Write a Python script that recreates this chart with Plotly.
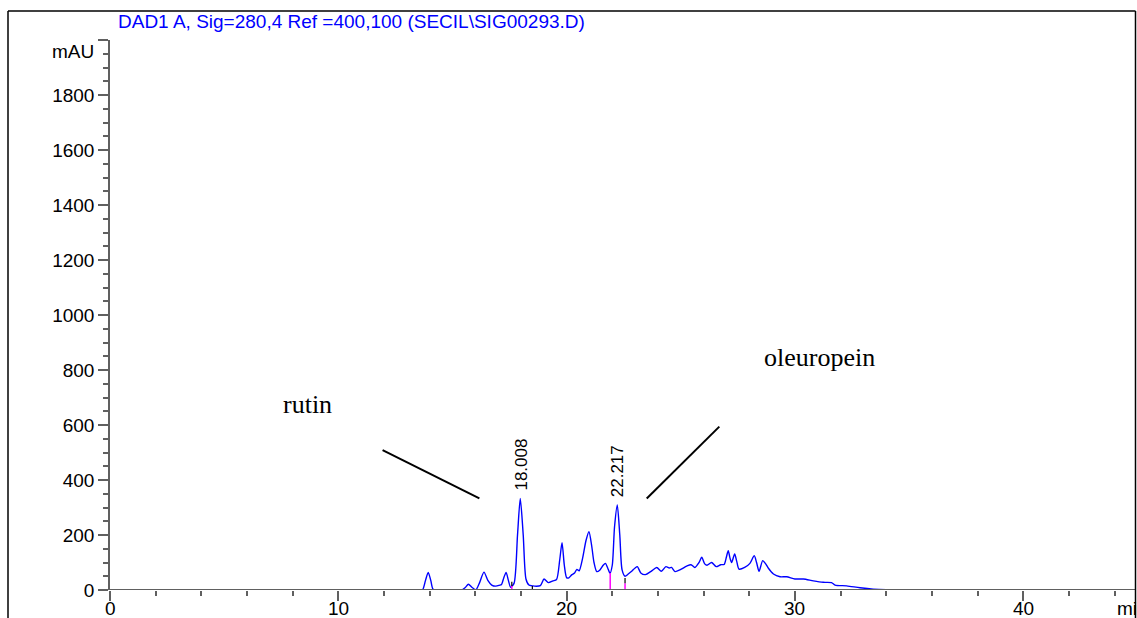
import plotly.graph_objects as go

# ---- data ----
time_min = [2.4, 2.6, 2.8, 13.6, 13.7, 13.82, 13.94, 14.05, 14.15, 14.3, 14.9, 15.4, 15.55, 15.7, 15.85,
            16.03, 16.18, 16.38, 16.55, 16.72, 16.9, 17.05, 17.15, 17.25, 17.35, 17.45, 17.55, 17.7,
            17.85, 17.97, 18.1, 18.22, 18.35, 18.6, 18.85, 19.01, 19.2, 19.4, 19.56, 19.7, 19.8, 19.9,
            20.0, 20.1, 20.22, 20.35, 20.45, 20.55, 20.7, 20.85, 20.98, 21.1, 21.2, 21.32, 21.45, 21.6,
            21.7, 21.8, 21.9, 22.0, 22.1, 22.22, 22.33, 22.43, 22.56, 22.7, 22.85, 23.0, 23.1, 23.25,
            23.45, 23.7, 23.95, 24.15, 24.35, 24.5, 24.6, 24.75, 25.0, 25.26, 25.45, 25.62, 25.8, 25.92,
            26.05, 26.15, 26.35, 26.55, 26.75, 26.9, 27.0, 27.08, 27.16, 27.23, 27.36, 27.45, 27.55,
            27.8, 28.03, 28.22, 28.32, 28.43, 28.59, 28.72, 28.84, 29.06, 29.35, 29.64, 30.0, 30.37,
            30.81, 31.24, 31.6, 31.76, 32.27, 32.85, 33.43, 34.0, 35.0, 36.0]
absorbance_mau = [0, 1, 0, 0, 2, 35, 64, 35, 3, 0, 1, 0, 8, 21, 10,
                  1, 25, 65, 35, 18, 14, 17, 20, 45, 64, 35, 10, 25,
                  200, 333, 200, 40, 18, 14, 16, 40, 27, 33, 38, 110, 172, 90,
                  45, 44, 55, 62, 75, 70, 115, 180, 212, 160, 100, 67, 72, 90,
                  97, 80, 61, 90, 230, 309, 200, 73, 50, 58, 68, 80, 85, 62,
                  56, 68, 82, 68, 85, 80, 82, 67, 75, 87, 92, 82, 100, 119,
                  95, 90, 100, 85, 92, 93, 120, 143, 115, 100, 131, 105, 76,
                  82, 97, 125, 100, 68, 107, 95, 79, 58, 48, 48, 40, 40,
                  33, 28, 27, 18, 15, 8, 3, 1, 0, 0]

x_tick_values = [0, 10, 20, 30, 40]
x_tick_labels = ["0", "10", "20", "30", "40"]
y_tick_values = [0, 200, 400, 600, 800, 1000, 1200, 1400, 1600, 1800, 2000]
y_tick_labels = ["0", "200", "400", "600", "800", "1000", "1200", "1400", "1600", "1800", ""]

peak_times = [18.008, 22.217]
peak_heights = [333, 309]
peak_labels = ["18.008", "22.217"]

compound_names = ["rutin", "oleuropein"]
compound_x = [8.63, 31.06]
compound_y = [673, 847]
pointer_x0 = [11.94, 23.51]
pointer_y0 = [509, 333]
pointer_x1 = [16.18, 26.69]
pointer_y1 = [333, 594]

# integration baseline markers: time, magenta top, black top
marker_times = [17.6, 18.5, 21.91, 22.56]
marker_magenta_top = [15, 0, 62, 25]
marker_black_top = [30, 15, 62, 44]

title_text = "DAD1 A, Sig=280,4 Ref =400,100 (SECIL\\SIG00293.D)"

# ---- layout geometry ----
W, H = 1137, 618
ML, MR, MT, MB = 110, 2, 40, 28
PW, PH = W - ML - MR, H - MT - MB
X_MAX = PW / 22.83


def px_x(px):
    return (px - ML) / PW


def px_y(py):
    return (H - MB - py) / PH


SANS = "Liberation Sans, Arial, sans-serif"
SERIF = "Liberation Serif, Times New Roman, serif"
AXC = "#606060"

fig = go.Figure()
fig.add_trace(go.Scatter(x=time_min, y=absorbance_mau, mode="lines",
                         line=dict(color="#0000FF", width=1.4, shape="spline", smoothing=0.7),
                         hoverinfo="skip", showlegend=False))

shapes = []
for t, hm, hb in zip(marker_times, marker_magenta_top, marker_black_top):
    if hm > 0:
        shapes.append(dict(type="line", xref="x", yref="y", x0=t, x1=t, y0=0, y1=hm,
                           line=dict(color="#FF00FF", width=1.5)))
    if hb > hm:
        shapes.append(dict(type="line", xref="x", yref="y", x0=t, x1=t, y0=hm, y1=hb,
                           line=dict(color="#000000", width=1.2)))
for x0, y0, x1, y1 in zip(pointer_x0, pointer_y0, pointer_x1, pointer_y1):
    shapes.append(dict(type="line", xref="x", yref="y", x0=x0, y0=y0, x1=x1, y1=y1,
                       line=dict(color="black", width=2)))
# x axis line drawn above the trace baseline
shapes.append(dict(type="line", xref="paper", yref="y", x0=0, x1=1, y0=0, y1=0,
                   line=dict(color=AXC, width=2), layer="above"))
# outer frame
for (a, b, c, d) in [(8, 11, 8, 620), (8, 11, 1135.5, 11), (1135.5, 11, 1135.5, 620)]:
    shapes.append(dict(type="line", xref="paper", yref="paper",
                       x0=px_x(a), y0=px_y(b), x1=px_x(c), y1=px_y(d),
                       line=dict(color="black", width=1.5), layer="above"))

annotations = []
for t, h, lab in zip(peak_times, peak_heights, peak_labels):
    annotations.append(dict(x=t, y=h, xref="x", yref="y", text=lab, textangle=-90,
                            showarrow=False, xanchor="center", yanchor="bottom", yshift=6,
                            font=dict(family=SANS, size=17, color="black")))
for name, x, y in zip(compound_names, compound_x, compound_y):
    annotations.append(dict(x=x, y=y, xref="x", yref="y", text=name, showarrow=False,
                            xanchor="center", yanchor="middle",
                            font=dict(family=SERIF, size=26, color="black")))
# x tick labels (placed closer to the axis than Plotly's default)
for v, lab in zip(x_tick_values, x_tick_labels):
    annotations.append(dict(x=v, y=px_y(608), xref="x", yref="paper", text=lab,
                            showarrow=False, xanchor="center", yanchor="middle",
                            font=dict(family=SANS, size=19, color="black")))
annotations.append(dict(x=px_x(116), y=px_y(21), xref="paper", yref="paper", text=title_text,
                        showarrow=False, xanchor="left", yanchor="middle",
                        font=dict(family=SANS, size=19, color="#0000FF")))
annotations.append(dict(x=px_x(96), y=px_y(51), xref="paper", yref="paper", text="mAU",
                        showarrow=False, xanchor="right", yanchor="middle",
                        font=dict(family=SANS, size=19, color="black")))
annotations.append(dict(x=px_x(1115), y=px_y(608), xref="paper", yref="paper", text="min",
                        showarrow=False, xanchor="left", yanchor="middle",
                        font=dict(family=SANS, size=19, color="black")))

fig.update_layout(
    width=W, height=H,
    margin=dict(l=ML, r=MR, t=MT, b=MB, pad=0, autoexpand=False),
    paper_bgcolor="white", plot_bgcolor="white",
    shapes=shapes, annotations=annotations, showlegend=False,
    xaxis=dict(range=[0, X_MAX], tickvals=x_tick_values, ticktext=x_tick_labels,
               showticklabels=False,
               showline=False, ticks="outside", ticklen=10, automargin=False,
               tickwidth=1.5, tickcolor=AXC, showgrid=False, zeroline=False,
               minor=dict(dtick=2, tick0=0, ticks="outside", ticklen=5, tickwidth=1.5,
                          tickcolor=AXC, showgrid=False)),
    yaxis=dict(range=[0, 2000], tickvals=y_tick_values, ticktext=y_tick_labels,
               showline=True, linecolor=AXC, linewidth=1.5, ticks="outside", ticklen=10,
               automargin=False,
               tickwidth=1.5, tickcolor=AXC, showgrid=False, zeroline=False,
               tickfont=dict(family=SANS, size=19, color="black"),
               minor=dict(dtick=50, tick0=0, ticks="outside", ticklen=5, tickwidth=1.5,
                          tickcolor=AXC, showgrid=False)),
)

fig.write_html("out.html", config={"displayModeBar": False})

# remove the default page margin so the figure sits at the window's corner
with open("out.html", "r", encoding="utf-8") as f:
    html = f.read()
html = html.replace("<body>", '<body style="margin:0;padding:0;overflow:hidden">', 1)
with open("out.html", "w", encoding="utf-8") as f:
    f.write(html)
